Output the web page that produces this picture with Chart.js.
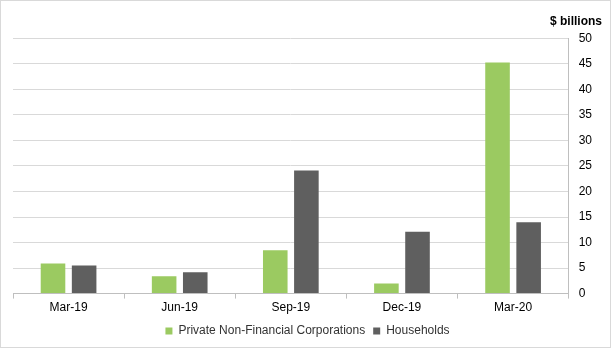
<!DOCTYPE html>
<html><head><meta charset="utf-8">
<script src="https://cdn.jsdelivr.net/npm/chart.js@4"></script>
<style>
html,body{margin:0;padding:0;background:#fff;}
#wrap{position:relative;width:611px;height:348px;box-sizing:border-box;border:1px solid #d9d9d9;}
canvas{display:block;}
</style></head>
<body>
<div id="wrap"><canvas id="c" width="609" height="346"></canvas></div>
<script>
const categories = ['Mar-19','Jun-19','Sep-19','Dec-19','Mar-20'];
const corporations = [5.9, 3.4, 8.5, 2.0, 45.3];
const households = [5.5, 4.2, 24.1, 12.1, 14.0];
const yTicks = [0,5,10,15,20,25,30,35,40,45,50];
const seriesNames = ['Private Non-Financial Corporations','Households'];
const unitLabel = '$ billions';

Chart.defaults.font.family = '"Liberation Sans", Arial, sans-serif';
Chart.defaults.font.size = 12;
Chart.defaults.color = '#333';

new Chart(document.getElementById('c'), {
  type: 'bar',
  data: {
    labels: categories,
    datasets: [
      {label: seriesNames[0], data: corporations, backgroundColor: '#9BCA61', categoryPercentage: 0.56, barPercentage: 0.79},
      {label: seriesNames[1], data: households, backgroundColor: '#5F5F5F', categoryPercentage: 0.56, barPercentage: 0.79}
    ]
  },
  options: {
    responsive: false,
    animation: false,
    layout: {padding: {left: 12, right: 8, top: 0, bottom: 0}},
    plugins: {
      title: {display: true, text: unitLabel, align: 'end', color: '#000',
              font: {weight: 'bold', size: 12}, padding: {top: 13, bottom: 10}},
      legend: {position: 'bottom', labels: {boxWidth: 7, boxHeight: 7, padding: 8, color: '#333'}},
      tooltip: {enabled: false}
    },
    scales: {
      x: {
        grid: {drawOnChartArea: false, drawTicks: true, tickLength: 5, color: '#bfbfbf', offset: true},
        border: {color: '#bfbfbf'},
        ticks: {padding: 2, color: '#000'}
      },
      y: {
        position: 'right', min: 0, max: 50,
        afterBuildTicks: (s) => { s.ticks = yTicks.map(v => ({value: v})); },
        grid: {color: '#d9d9d9', drawTicks: false},
        border: {color: '#bfbfbf', display: true},
        ticks: {padding: 10, color: '#000'}
      }
    }
  }
});
</script>
</body></html>
